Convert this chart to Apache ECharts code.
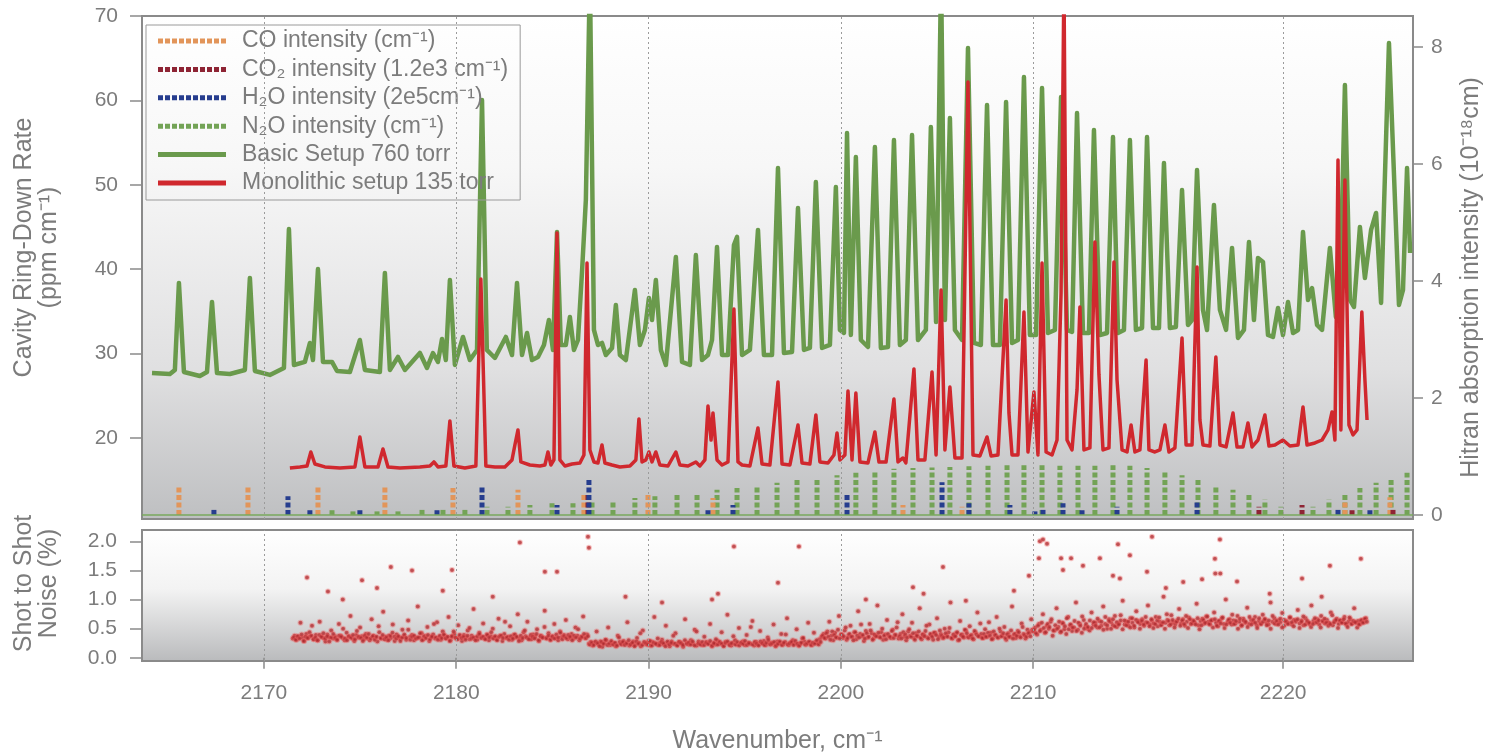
<!DOCTYPE html>
<html><head><meta charset="utf-8">
<script src="https://cdn.jsdelivr.net/npm/echarts@6/dist/echarts.min.js"></script>
<style>html,body{margin:0;padding:0;background:#fff}#c{width:1497px;height:755px}</style>
</head><body><div id="c"></div>
<script>
// ---------- axes / ticks ----------
const X_TICKS = [2170, 2180, 2190, 2200, 2210, 2223];
const X_TICK_LABELS = ['2170', '2180', '2190', '2200', '2210', '2220'];
const LEFT_TICKS = [20, 30, 40, 50, 60, 70];
const RIGHT_TICKS = [0, 2, 4, 6, 8];
const NOISE_TICKS = [0, 0.5, 1, 1.5, 2];

// ---------- measured spectra (wavenumber, ppm/cm) ----------
const BASIC_760 = [
[2164.18,27.70],[2165.11,27.58],[2165.37,28.06],[2165.58,38.37],[2165.84,27.82],[2166.67,27.35],[2167.04,27.82],[2167.30,36.11],[2167.56,27.70],[2168.23,27.58],[2169.01,28.06],[2169.27,38.96],[2169.53,27.94],[2170.31,27.47],[2171.04,28.30],[2171.30,44.76],[2171.56,28.65],[2172.13,29.01],[2172.39,31.26],[2172.55,29.24],[2172.81,40.02],[2173.07,29.01],[2173.54,29.01],[2173.80,27.94],[2174.47,27.82],[2174.99,31.61],[2175.25,28.06],[2176.03,27.82],[2176.29,39.55],[2176.55,28.06],[2176.97,29.60],[2177.33,28.06],[2178.11,30.07],[2178.48,28.30],[2178.79,30.07],[2179.05,29.01],[2179.26,31.73],[2179.46,29.24],[2179.67,38.72],[2179.93,28.65],[2180.35,31.97],[2180.71,29.24],[2181.08,30.43],[2181.34,60.05],[2181.59,30.43],[2182.01,29.48],[2182.58,31.97],[2182.90,29.83],[2183.16,38.37],[2183.42,29.83],[2183.68,32.44],[2183.94,29.24],[2184.25,29.60],[2184.56,31.02],[2184.82,33.98],[2185.03,30.43],[2185.24,44.41],[2185.44,31.02],[2185.70,31.02],[2185.91,34.34],[2186.12,30.43],[2186.33,31.61],[2186.54,39.67],[2186.74,48.20],[2186.95,75],[2187.16,32.80],[2187.37,31.02],[2187.58,31.26],[2187.78,29.83],[2188.10,30.67],[2188.30,35.76],[2188.51,29.83],[2188.82,29.24],[2189.29,37.54],[2189.55,31.02],[2189.81,32.80],[2190.02,36.59],[2190.18,33.98],[2190.38,38.72],[2190.64,30.43],[2190.90,28.65],[2191.42,41.45],[2191.74,29.01],[2192.15,28.65],[2192.46,41.68],[2192.78,29.24],[2193.09,29.83],[2193.30,31.61],[2193.56,42.63],[2193.82,29.83],[2194.13,29.83],[2194.44,42.87],[2194.60,43.82],[2194.86,29.83],[2195.27,30.43],[2195.69,44.65],[2196.00,29.83],[2196.42,29.83],[2196.73,51.99],[2197.04,30.07],[2197.46,30.19],[2197.77,47.25],[2198.08,30.43],[2198.39,30.67],[2198.70,50.33],[2199.02,30.67],[2199.43,31.02],[2199.74,49.74],[2199.95,32.80],[2200.16,32.44],[2200.32,56.14],[2200.52,32.20],[2200.78,53.29],[2201.04,31.61],[2201.41,30.78],[2201.77,54.48],[2202.08,30.67],[2202.45,30.78],[2202.76,55.31],[2203.07,31.02],[2203.38,31.61],[2203.70,55.90],[2204.01,31.61],[2204.42,32.80],[2204.68,56.85],[2204.95,33.75],[2205.21,75],[2205.41,33.98],[2205.67,57.92],[2205.93,32.80],[2206.30,31.61],[2206.61,66.21],[2206.92,31.26],[2207.28,31.02],[2207.60,59.46],[2207.91,31.02],[2208.27,31.02],[2208.59,59.81],[2208.90,31.26],[2209.21,31.61],[2209.52,62.77],[2209.83,32.20],[2210.15,32.20],[2210.46,61.47],[2210.77,32.44],[2211.13,32.80],[2211.45,60.40],[2211.76,32.80],[2212.02,32.56],[2212.28,58.51],[2212.59,32.44],[2212.90,32.44],[2213.16,56.49],[2213.47,32.20],[2213.84,32.44],[2214.15,55.66],[2214.41,32.44],[2214.72,32.80],[2215.03,55.31],[2215.34,32.80],[2215.66,33.03],[2215.92,55.66],[2216.23,33.03],[2216.54,33.03],[2216.80,52.58],[2217.11,33.03],[2217.42,33.15],[2217.74,49.38],[2218.05,33.39],[2218.26,33.98],[2218.52,51.75],[2218.83,35.17],[2219.04,32.80],[2219.40,47.61],[2219.71,35.17],[2220.03,32.80],[2220.34,42.51],[2220.65,31.85],[2220.96,32.80],[2221.22,43.22],[2221.48,33.98],[2221.69,41.33],[2221.95,40.85],[2222.21,32.20],[2222.47,31.97],[2222.73,35.40],[2222.99,32.20],[2223.25,36.11],[2223.51,32.44],[2223.77,32.80],[2224.03,44.41],[2224.29,36.35],[2224.50,37.77],[2224.76,33.39],[2225.02,32.80],[2225.43,42.51],[2225.74,34.34],[2225.95,36.35],[2226.21,61.82],[2226.47,36.35],[2226.68,35.52],[2226.99,45.00],[2227.25,38.96],[2227.57,44.65],[2227.83,46.66],[2228.09,36.00],[2228.50,66.80],[2229.02,35.76],[2229.23,37.54],[2229.44,51.99],[2229.60,41.92]
];
const MONO_135 = [
[2171.35,16.45],[2171.87,16.57],[2172.24,16.68],[2172.44,18.34],[2172.65,16.92],[2173.17,16.57],[2173.95,16.45],[2174.73,16.57],[2174.99,20.12],[2175.25,16.57],[2175.93,16.57],[2176.19,18.70],[2176.45,16.57],[2177.07,16.45],[2178.11,16.57],[2178.63,16.68],[2178.84,17.16],[2179.05,16.57],[2179.46,16.68],[2179.67,22.02],[2179.88,16.68],[2180.45,16.45],[2181.02,16.68],[2181.28,38.84],[2181.54,16.68],[2182.01,16.57],[2182.53,16.57],[2182.90,17.40],[2183.05,19.17],[2183.21,20.95],[2183.36,17.16],[2183.83,16.80],[2184.35,16.68],[2184.61,16.80],[2184.77,18.34],[2184.92,16.80],[2185.08,17.40],[2185.24,44.29],[2185.39,17.40],[2185.65,16.68],[2186.02,16.92],[2186.43,17.04],[2186.64,17.99],[2186.80,40.74],[2186.95,18.58],[2187.16,17.16],[2187.37,17.04],[2187.58,19.17],[2187.73,17.04],[2188.10,16.80],[2188.51,16.57],[2189.03,16.68],[2189.34,17.40],[2189.50,22.25],[2189.66,17.16],[2189.86,17.40],[2190.02,18.34],[2190.18,17.16],[2190.38,18.34],[2190.59,16.80],[2191.01,16.68],[2191.42,18.34],[2191.63,16.80],[2192.05,16.68],[2192.46,17.16],[2192.67,16.68],[2192.93,17.40],[2193.09,23.79],[2193.25,19.76],[2193.35,22.96],[2193.56,17.40],[2193.82,16.80],[2194.13,17.16],[2194.44,35.28],[2194.65,17.16],[2194.86,16.80],[2195.27,16.68],[2195.69,21.19],[2195.90,16.92],[2196.31,16.80],[2196.73,26.64],[2196.94,16.92],[2197.35,16.80],[2197.77,21.54],[2197.98,17.04],[2198.39,16.92],[2198.70,22.73],[2198.91,17.16],[2199.33,17.04],[2199.64,17.99],[2199.80,20.59],[2199.95,17.40],[2200.21,17.99],[2200.37,25.57],[2200.58,17.40],[2200.78,25.33],[2200.99,17.16],[2201.41,17.04],[2201.77,20.71],[2201.98,17.16],[2202.35,17.16],[2202.76,24.62],[2202.97,17.16],[2203.23,17.63],[2203.38,17.04],[2203.80,28.18],[2204.01,17.40],[2204.37,17.40],[2204.74,27.82],[2204.95,17.99],[2205.21,37.54],[2205.41,18.58],[2205.67,26.04],[2205.93,17.63],[2206.30,17.63],[2206.61,62.18],[2206.87,17.99],[2207.23,17.87],[2207.60,20.12],[2207.81,17.87],[2208.17,17.99],[2208.59,36.35],[2208.74,22.96],[2208.90,17.99],[2209.21,17.99],[2209.52,34.93],[2209.73,18.34],[2210.04,25.45],[2210.25,17.99],[2210.46,40.74],[2210.67,18.34],[2210.98,17.99],[2211.24,19.76],[2211.45,37.18],[2211.60,75],[2211.76,19.76],[2212.02,18.58],[2212.28,25.69],[2212.43,35.52],[2212.64,18.58],[2212.95,18.82],[2213.21,43.22],[2213.42,27.47],[2213.63,18.58],[2213.94,18.82],[2214.20,40.85],[2214.36,26.87],[2214.62,18.58],[2214.88,18.34],[2215.09,21.54],[2215.29,18.34],[2215.55,18.58],[2215.87,29.24],[2216.02,18.58],[2216.33,18.34],[2216.59,18.58],[2216.85,21.54],[2217.06,18.34],[2217.37,18.82],[2217.74,31.85],[2217.95,19.17],[2218.26,19.17],[2218.52,40.26],[2218.67,22.13],[2218.83,19.17],[2219.19,19.05],[2219.50,29.60],[2219.71,19.17],[2220.03,18.94],[2220.39,22.96],[2220.60,18.94],[2220.91,18.94],[2221.17,21.78],[2221.38,18.94],[2221.69,19.76],[2222.05,22.73],[2222.26,19.05],[2222.57,19.17],[2222.99,19.76],[2223.35,19.05],[2223.77,19.17],[2224.03,23.67],[2224.24,19.17],[2224.65,19.41],[2225.02,19.76],[2225.33,20.95],[2225.54,23.08],[2225.69,19.76],[2225.85,52.94],[2226.00,20.95],[2226.21,50.57],[2226.42,21.54],[2226.63,20.36],[2226.84,20.95],[2227.09,34.93],[2227.25,26.87],[2227.36,22.13]
];

// ---------- HITRAN line intensities (wavenumber, 1e-18 cm) ----------
const CO_LINES = [[2165.58,0.48],[2169.17,0.48],[2172.81,0.48],[2176.29,0.48],[2179.83,0.46],[2183.21,0.43],[2186.64,0.38],[2189.97,0.34],[2193.35,0.29],[2203.23,0.17],[2206.30,0.14],[2226.21,0.22],[2228.55,0.30]];
const CO2_LINES = [[2186.85,0.35],[2221.74,0.14],[2223.98,0.17],[2226.58,0.08],[2228.71,0.12]];
const H2O_LINES = [[2167.40,0.12],[2171.25,0.32],[2172.39,0.08],[2174.99,0.08],[2179.00,0.08],[2181.34,0.48],[2185.24,0.17],[2186.90,0.63],[2193.09,0.08],[2194.39,0.17],[2200.32,0.36],[2205.26,0.56],[2206.66,0.20],[2208.79,0.17],[2210.09,0.06],[2210.51,0.12],[2211.55,0.20],[2212.54,0.08],[2214.36,0.14],[2218.52,0.22],[2225.85,0.12],[2227.51,0.08]];
const N2O_LINES = [[2173.54,0.08],[2174.63,0.06],[2175.88,0.06],[2176.97,0.06],[2178.22,0.12],[2179.31,0.12],[2180.45,0.12],[2181.60,0.14],[2182.69,0.14],[2183.83,0.17],[2184.98,0.20],[2186.07,0.20],[2187.06,0.22],[2188.15,0.25],[2189.29,0.29],[2190.33,0.32],[2191.48,0.34],[2192.52,0.38],[2193.56,0.43],[2194.60,0.46],[2195.64,0.51],[2196.68,0.55],[2197.72,0.60],[2198.76,0.63],[2199.80,0.68],[2200.78,0.72],[2201.77,0.75],[2202.76,0.79],[2203.75,0.80],[2204.74,0.81],[2205.67,0.82],[2206.66,0.83],[2207.65,0.84],[2208.64,0.85],[2209.52,0.85],[2210.46,0.85],[2211.39,0.84],[2212.33,0.84],[2213.21,0.84],[2214.15,0.85],[2215.03,0.84],[2215.92,0.80],[2216.85,0.74],[2217.74,0.68],[2218.57,0.60],[2219.50,0.51],[2220.39,0.43],[2221.22,0.34],[2222.05,0.26],[2222.88,0.14],[2224.55,0.14],[2225.38,0.26],[2226.21,0.34],[2226.99,0.46],[2227.83,0.55],[2228.61,0.63],[2229.44,0.72]];

// ---------- shot-to-shot noise (%), read in hundredths along each scan segment ----------
const NOISE_A = [33,38,31,36,60,35,29,41,34,37,55,32,39,30,62,36,34,28,40,35,47,33,37,31,58,38,34,30,43,36,72,33,29,39,35,52,37,32,41,34,30,66,38,35,28,44,33,79,36,31,38,34,57,29,40,35,33,48,37,31,64,36,39,30,34,88,35,42,32,37,53,29,36,40,33,61,35,31,45,38,34,70,30,36,41,33,56,37,29,39,35,47,32,38,84,34,31,43,36,59,33,40,30,37,50,35,32,67,38,29,41,34,36,54,31,39,35,75,33,30,44,37,62,34,32,40,36,49,29,38,35,81,33,42,31,37,58,34,30,45,36,39,65,32,35,41,33,52,38,30,36,71,34,40];
const NOISE_A2 = [35,31,37,33,40,29,36,34,44,38,32,35,30,39,36,42,33,37,28,35,41,34,31,38,36,50,33,30,37,35,39,32,46,36,34,29,38,35,41,33,37,31,36,54,34,39,32,35,30,38,43,36,33,37,29,35,40,34,48,31,36,38,33,35,42,30,37,34,39,32,36,58,35,31,38,34,40,33,36,29,37,45,35,32,39,34,36,31,38,51,33,35,30,37,41,34,36,32,39,35,44,33,37,30,36,38,34,62,35,31,37,33,40,36,29,38,34,47,35,32,39,36,33,41,30,37,35,53,34,38,31,36,33,40,35,43,32,37,34,39,36,30,38,35,49,33,36,41,34,37];
const NOISE_B = [24,27,21,26,45,23,28,19,25,30,52,22,26,24,20,38,27,23,29,25,61,21,24,28,22,34,26,20,47,25,23,29,21,27,70,24,22,26,31,23,55,25,20,28,24,42,22,27,25,19,66,26,23,30,24,48,21,28,25,22,36,27,24,58,20,26,23,29,25,44,22,27,74,24,21,26,30,23,51,25,28,22,39,26,24,63,21,27,23,46,25,29,22,35,26,24,57,20,28,25,41,23,27,68,22,26,30,24,49,21,25,33,28,23,60,26,22,43,27,25,32];
const NOISE_B2 = [23,26,22,28,25,20,27,24,31,22,25,29,23,26,21,35,24,27,22,25,30,23,26,20,28,24,42,22,27,25,23,29,21,26,24,33,22,27,25,20,28,23,26,38,24,21,27,25,22,30,24,26,23,28,21,45,25,23,27,22,26,24,29,21,25,32,23,27,24,20,26,28,22,25,37,23,27,21,26,24,29,22,25,53,23,27,24,21,28,25,22,26,31,23,25,27,21,24,28,22,26,40,23,25,27,22,29,24,21,26,34,23,25,28,22,26,24,30,23,27];
const NOISE_C = [36,41,33,45,62,38,30,43,35,72,40,34,47,31,39,55,36,44,32,80,41,37,29,46,35,58,42,33,38,90,36,44,31,40,65,37,34,48,39,52,33,41,75,36,30,45,38,60,34,42,37,85,32,40,46,35,57,39,31,43,68,36,41,34,50,38,44,95,33,37,42,30,63,40,35,47,36,54,39,32,44,78,37,41,34,49,36,61,43,33,39,70,35,45,38,53,31,42,36,88,40,34,46,37,59,41,33,48,44,66];
const NOISE_C2 = [38,34,42,36,31,45,39,35,48,33,40,37,52,34,41,36,30,44,38,35,57,39,33,42,36,47,31,40,37,43,35,50,38,32,41,36,46,34,39,61,37,33,44,40,35,49,36,42,31,38,45,34,40,37,55,33,41,36,43,39,32,47,38,35,42,36,51,34,40,37,44,31,39,36,48,42,35,38,33,46,40,37,59,34,41,36,43,38,32,45,39,35,50,37,42,34,40,36,47,33,41,38,44,35,53,39,36,42,37,48];
const NOISE_D = [45,52,40,58,48,75,43,55,50,62,38,47,85,53,44,60,49,41,70,56,46,52,95,48,58,43,65,54,50,47,78,57,60,52,63,55,88,58,50,66,61,56,72,53,59,64,98,57,62,55,68,60,52,80,63,58,66,55,61,90,57,64,59,70,54,62,58,105,60,65,56,73,61,57,63,84,59,66,55,62,69,58,64,60,93,56,63,67,59,71,62,57,65,78,60,54,63,68,58,100,61,66,57,64,59,72,62,55,67,60,86,58,65,61,70,56,63,59,74,66,60,57,95,62,68,58,64,61,77,55,63,60,69,57,65,62,82,59,64,56,68,61,58,90,63,60,66,57,72,62,59,65,60,78,56,63,67,58,64,61,70,57,62,66,59,85,60,63,58,65,61,68];
const NOISE_D2 = [48,42,55,46,60,51,44,58,53,66,47,56,50,62,45,59,54,68,49,57,52,63,46,60,55,71,50,58,53,64,51,61,55,67,52,62,48,70,56,63,50,66,54,61,57,73,49,64,56,62,52,68,55,65,61,50,63,57,70,60,54,66,51,58,64,69,56,61,50,75,63,57,65,52,62,67,55,64,58,72,51,66,59,63,57,68,49,56,65,60,71,58,64,52,66,55,63,59,69,51,57,65,60,74,58,63,50,67,56,64,62,53,70,57,65,60,51,68,58,62,66,56,64,50,72,59,63,57,67,52,65,62,58,69,61,54,64,66,51,62,71,57,63,60,53,58,68,61,64,52,63,67,60,55,58,73,61,65,51,64,60,66,59,53,69,58,63,61,52,57,64,60,67,62];
const NOISE_SEGMENTS = [
  [2171.5, 2186.8, NOISE_A], [2171.55, 2186.85, NOISE_A2],
  [2186.9, 2198.9, NOISE_B], [2186.95, 2198.95, NOISE_B2],
  [2199.0, 2209.9, NOISE_C], [2199.05, 2209.95, NOISE_C2],
  [2210.0, 2227.3, NOISE_D], [2210.05, 2227.35, NOISE_D2]
];
const NOISE_OUTLIERS = [[2172.24,1.38],[2173.33,1.14],[2174.10,1.00],[2175.10,1.33],[2175.88,1.20],[2176.60,1.56],[2177.70,1.50],[2179.30,1.15],[2179.78,1.51],[2181.90,1.05],[2183.31,1.98],[2184.61,1.48],[2185.24,1.48],[2186.85,2.08],[2186.90,1.89],[2188.80,1.05],[2190.70,0.95],[2193.30,1.00],[2193.61,1.10],[2194.44,1.91],[2196.73,1.29],[2197.82,1.91],[2201.30,1.00],[2203.75,1.21],[2204.30,1.10],[2205.31,1.56],[2206.50,0.98],[2209.00,1.15],[2209.78,1.41],[2210.30,1.71],[2210.35,2.00],[2210.51,2.03],[2210.72,1.96],[2211.45,1.71],[2211.55,1.51],[2211.97,1.71],[2212.59,1.58],[2213.47,1.71],[2214.15,1.41],[2214.41,1.95],[2214.51,1.36],[2215.03,1.76],[2215.92,1.48],[2216.18,2.08],[2216.90,1.20],[2217.80,1.30],[2218.78,1.35],[2219.45,1.70],[2219.47,1.45],[2219.71,2.03],[2219.73,1.45],[2220.60,1.31],[2222.30,1.10],[2223.98,1.36],[2225.00,1.05],[2225.43,1.58],[2227.04,1.70]];

// ---------- build ----------
const X_MIN = 2163.66, X_MAX = 2229.75;
const GRAY = '#7c7c7c';
const FONT = "'Liberation Sans', Arial, Helvetica, sans-serif";
const noiseData = [];
NOISE_SEGMENTS.forEach(([a, b, vals]) => {
  const step = (b - a) / (vals.length - 1);
  vals.forEach((v, i) => noiseData.push([a + i * step, v / 100]));
});
NOISE_OUTLIERS.forEach(p => noiseData.push(p));

function stickRender(color) {
  return function (params, api) {
    const x = api.value(0), h = api.value(1);
    const p0 = api.coord([x, 0]);
    const p1 = api.coord([x, h]);
    return { type: 'line', shape: { x1: p0[0], y1: p0[1], x2: p1[0], y2: p1[1] },
      style: { stroke: color, lineWidth: 5, lineDash: [5, 2.5], lineCap: 'butt' } };
  };
}
let dotPath = 'path://';
for (let i = 0; i < 10; i++) dotPath += 'M' + (i * 7) + ',0h5v5h-5z';

const C_CO = '#e2955a', C_CO2 = '#8e2434', C_H2O = '#263d8e', C_N2O = '#73a356';
const C_GREEN = '#6a9a4c', C_RED = '#d0282e';
const NAMES = {
  co: 'CO intensity (cm⁻¹)', co2: 'CO₂ intensity (1.2e3 cm⁻¹)', h2o: 'H₂O intensity (2e5cm⁻¹)',
  n2o: 'N₂O intensity (cm⁻¹)', basic: 'Basic Setup 760 torr', mono: 'Monolithic setup 135 torr'
};
function grad(stops) { return new echarts.graphic.LinearGradient(0, 0, 0, 1, stops); }
function tickFmt(v) {
  for (let i = 0; i < X_TICKS.length; i++) if (Math.abs(X_TICKS[i] - v) < 1e-6) return X_TICK_LABELS[i];
  return '';
}
const gridLineStyle = { color: '#9b9b9b', type: [2, 3], width: 1 };
const TICK_STYLE = { color: '#8a8a8a', width: 1.5 };

const chart = echarts.init(document.getElementById('c'));
chart.setOption({
  animation: false,
  textStyle: { fontFamily: FONT },
  grid: [
    { left: 142, right: 84, top: 16, height: 503, show: true, borderColor: '#8a8a8a', borderWidth: 2,
      backgroundColor: grad([{ offset: 0, color: '#ffffff' }, { offset: 0.3, color: '#f7f7f7' }, { offset: 0.7, color: '#e0e0e1' }, { offset: 1, color: '#bebfc1' }]) },
    { left: 142, right: 84, top: 530, height: 135, show: true, borderColor: '#8a8a8a', borderWidth: 2,
      backgroundColor: grad([{ offset: 0, color: '#ffffff' }, { offset: 0.45, color: '#f3f3f3' }, { offset: 1, color: '#b9babc' }]) }
  ],
  legend: {
    orient: 'vertical', left: 146, top: 25, padding: [4, 12, 5, 12], itemGap: 4.4,
    itemWidth: 68, itemHeight: 5, symbolKeepAspect: false,
    borderColor: '#9a9a9a', borderWidth: 1, backgroundColor: 'transparent',
    textStyle: { color: GRAY, fontSize: 23, lineHeight: 24, padding: [0, 0, 0, 11], fontFamily: FONT },
    data: [
      { name: NAMES.co, icon: dotPath, itemStyle: { color: C_CO } },
      { name: NAMES.co2, icon: dotPath, itemStyle: { color: C_CO2 } },
      { name: NAMES.h2o, icon: dotPath, itemStyle: { color: C_H2O } },
      { name: NAMES.n2o, icon: dotPath, itemStyle: { color: C_N2O } },
      { name: NAMES.basic, icon: 'rect', itemStyle: { color: C_GREEN } },
      { name: NAMES.mono, icon: 'rect', itemStyle: { color: C_RED } }
    ]
  },
  xAxis: [
    { gridIndex: 0, type: 'value', min: X_MIN, max: X_MAX, axisLine: { show: false }, axisTick: { show: false },
      axisLabel: { show: false }, splitLine: { show: false } },
    { gridIndex: 1, type: 'value', min: X_MIN, max: X_MAX, axisLine: { show: false },
      axisTick: { show: true, length: 11, customValues: X_TICKS, lineStyle: TICK_STYLE },
      axisLabel: { customValues: X_TICKS, formatter: tickFmt, color: GRAY, fontSize: 21, margin: 22 },
      splitLine: { show: false },
      name: 'Wavenumber, cm⁻¹', nameLocation: 'middle', nameGap: 68,
      nameTextStyle: { color: GRAY, fontSize: 25 } }
  ],
  yAxis: [
    { gridIndex: 0, type: 'value', position: 'left', min: 10.4, max: 70, axisLine: { show: false },
      axisTick: { show: true, length: 12, customValues: LEFT_TICKS, lineStyle: TICK_STYLE },
      axisLabel: { customValues: LEFT_TICKS, color: GRAY, fontSize: 21, margin: 24 }, splitLine: { show: false },
      name: 'Cavity Ring-Down Rate\n(ppm cm⁻¹)', nameLocation: 'middle', nameGap: 80, nameRotate: 90,
      nameTextStyle: { color: GRAY, fontSize: 25, lineHeight: 25, padding: [0, 0, 0, 40] } },
    { gridIndex: 0, type: 'value', position: 'right', min: -0.07, max: 8.53, axisLine: { show: false },
      axisTick: { show: true, length: 10, customValues: RIGHT_TICKS, lineStyle: TICK_STYLE },
      axisLabel: { customValues: RIGHT_TICKS, color: GRAY, fontSize: 21, margin: 18 }, splitLine: { show: false },
      name: 'Hitran absorption intensity (10⁻¹⁸cm)', nameLocation: 'middle', nameGap: 46, nameRotate: 90,
      nameTextStyle: { color: GRAY, fontSize: 25, padding: [0, 20, 0, 0] } },
    { gridIndex: 1, type: 'value', position: 'left', min: -0.055, max: 2.195, axisLine: { show: false },
      axisTick: { show: true, length: 12, customValues: NOISE_TICKS, lineStyle: TICK_STYLE },
      axisLabel: { customValues: NOISE_TICKS, color: GRAY, fontSize: 21, margin: 25, formatter: v => v.toFixed(1) },
      splitLine: { show: false },
      name: 'Shot to Shot\nNoise (%)', nameLocation: 'middle', nameGap: 80, nameRotate: 90,
      nameTextStyle: { color: GRAY, fontSize: 25, lineHeight: 25, padding: [0, 0, 0, 24] } }
  ],
  series: [
    { name: 'grid-top', type: 'line', xAxisIndex: 0, yAxisIndex: 0, data: [], z: 1,
      markLine: { silent: true, symbol: 'none', label: { show: false }, lineStyle: gridLineStyle,
        data: X_TICKS.map(v => ({ xAxis: v })) } },
    { name: 'grid-bottom', type: 'line', xAxisIndex: 1, yAxisIndex: 2, data: [], z: 1,
      markLine: { silent: true, symbol: 'none', label: { show: false }, lineStyle: gridLineStyle,
        data: X_TICKS.map(v => ({ xAxis: v })) } },
    { name: NAMES.n2o, type: 'custom', xAxisIndex: 0, yAxisIndex: 1, renderItem: stickRender(C_N2O),
      itemStyle: { color: C_N2O }, encode: { x: 0, y: 1 }, data: N2O_LINES, z: 2,
      markLine: { silent: true, symbol: 'none', label: { show: false },
        lineStyle: { color: '#78a85c', type: 'solid', width: 1.5 }, data: [{ yAxis: 0 }] } },
    { name: NAMES.co, type: 'custom', xAxisIndex: 0, yAxisIndex: 1, renderItem: stickRender(C_CO),
      itemStyle: { color: C_CO }, encode: { x: 0, y: 1 }, data: CO_LINES, z: 2 },
    { name: NAMES.co2, type: 'custom', xAxisIndex: 0, yAxisIndex: 1, renderItem: stickRender(C_CO2),
      itemStyle: { color: C_CO2 }, encode: { x: 0, y: 1 }, data: CO2_LINES, z: 2 },
    { name: NAMES.h2o, type: 'custom', xAxisIndex: 0, yAxisIndex: 1, renderItem: stickRender(C_H2O),
      itemStyle: { color: C_H2O }, encode: { x: 0, y: 1 }, data: H2O_LINES, z: 2 },
    { name: NAMES.basic, type: 'line', xAxisIndex: 0, yAxisIndex: 0, data: BASIC_760, showSymbol: false, symbol: 'none',
      lineStyle: { color: C_GREEN, width: 4.5, join: 'round' }, itemStyle: { color: C_GREEN }, z: 3 },
    { name: NAMES.mono, type: 'line', xAxisIndex: 0, yAxisIndex: 0, data: MONO_135, showSymbol: false, symbol: 'none',
      lineStyle: { color: C_RED, width: 3.5, join: 'round' }, itemStyle: { color: C_RED }, z: 4 },
    { name: 'noise', type: 'scatter', xAxisIndex: 1, yAxisIndex: 2, data: noiseData, symbol: 'circle', symbolSize: 4,
      itemStyle: { color: '#a8262b', borderColor: 'rgba(236,96,96,0.45)', borderWidth: 2 }, z: 3 }
  ]
});
</script>
</body></html>
